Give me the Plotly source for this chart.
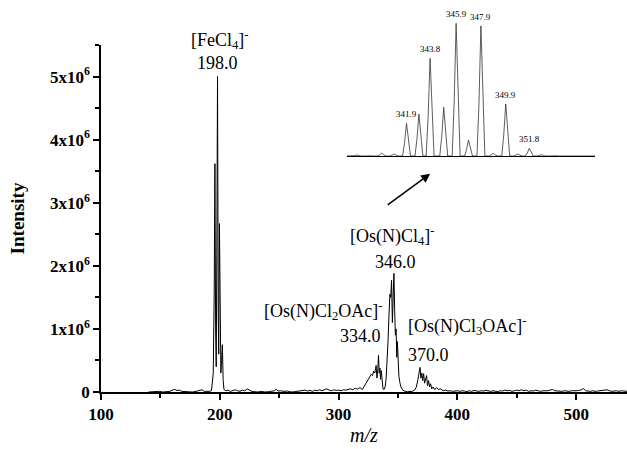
import plotly.graph_objects as go

# ---------------- data ----------------
# main spectrum: m/z and intensity (in units of 10^6 counts)
mz_main = [140, 143, 146, 149, 152, 155, 158, 160, 162, 164, 166, 168, 171, 174, 177, 180, 183, 185, 187, 189, 191, 193,
           194.5, 195.3, 195.9, 196.5, 197.0, 197.5, 198.1, 198.7, 199.1, 199.7, 200.3, 200.9, 201.5, 202.2, 202.8, 203.5,
           205, 207, 209, 211, 213, 215, 217, 219, 221, 223, 225, 227, 229, 232, 235, 238, 241, 244, 246, 247.5, 249, 251,
           254, 257, 260, 263, 266, 268, 270, 272, 274, 276, 278, 280, 282, 284, 286, 288, 290, 292, 294, 296, 298, 300,
           302, 304, 306, 308, 310, 312, 314, 316, 318, 320, 321.5, 323, 324.5, 326, 327.5, 328.5, 329.5, 330.5, 331.6,
           332.3, 333.0, 333.6, 334.2, 334.8, 335.3, 335.9, 336.6, 337.4, 338.3, 339.2, 340.0, 340.8, 341.6, 342.4, 343.2,
           343.9, 344.6, 345.3, 346.0, 346.6, 347.2, 347.8, 348.4, 349.0, 349.5, 350.1, 350.8, 351.6, 352.5, 354, 356, 358,
           360, 362, 364, 365.5, 366.8, 367.8, 368.6, 369.3, 370.1, 370.8, 371.6, 372.4, 373.3, 374.1, 374.9, 375.8, 376.6,
           377.5, 378.4, 379.5, 381, 382.5, 384, 386, 388, 390, 392, 394, 396, 398, 400, 402, 404, 406, 408, 410, 412, 414,
           416, 418, 420, 422, 424, 426, 428, 430, 432, 434, 436, 438, 440, 442, 444, 446, 448, 450, 452, 454, 456, 458,
           460, 462, 464, 466, 468, 470, 472, 474, 476, 478, 480, 482, 484, 486, 488, 490, 492, 494, 496, 498, 500, 502,
           504, 506, 508, 510, 512, 514, 516, 518, 520, 522, 524, 526, 528, 530, 532, 534, 536, 538, 540, 543]
intensity_M = [0.0, 0.005, 0.0, 0.01, 0.0, 0.005, 0.01, 0.03, 0.04, 0.025, 0.03, 0.01, 0.005, 0.01, 0.0, 0.01, 0.02, 0.035,
               0.01, 0.005, 0.01, 0.02,
               0.3, 1.6, 3.62, 1.0, 0.4, 2.2, 5.0, 1.2, 0.6, 2.67, 0.8, 0.3, 0.5, 0.75, 0.2, 0.04,
               0.02, 0.03, 0.01, 0.02, 0.035, 0.02, 0.01, 0.03, 0.02, 0.05, 0.025, 0.01, 0.005, 0.0, 0.01, 0.0, 0.005, 0.01,
               0.02, 0.045, 0.015, 0.02,
               0.01, 0.015, 0.0, 0.005, 0.01, 0.025, 0.02, 0.03, 0.015, 0.025, 0.01, 0.03, 0.02, 0.035, 0.02, 0.04, 0.05,
               0.03, 0.02, 0.035, 0.025, 0.03,
               0.02, 0.035, 0.03, 0.04, 0.05, 0.035, 0.06, 0.045, 0.07, 0.04, 0.09, 0.12, 0.17, 0.22, 0.28, 0.26, 0.33, 0.3,
               0.42,
               0.22, 0.35, 0.58, 0.3, 0.38, 0.2, 0.34, 0.12, 0.05, 0.04, 0.08, 0.2, 0.45, 0.8, 1.2, 1.55,
               1.5, 1.77, 1.1, 1.5, 1.88, 1.3, 0.9, 1.0, 0.55, 0.8, 0.35, 0.25, 0.15, 0.08, 0.03, 0.01, 0.005,
               0.005, 0.01, 0.03, 0.08, 0.2, 0.3, 0.39, 0.22, 0.3, 0.18, 0.29, 0.14, 0.24, 0.26, 0.1, 0.18, 0.08,
               0.13, 0.05, 0.08, 0.04, 0.07, 0.04, 0.05, 0.02, 0.03, 0.015, 0.02, 0.01, 0.015, 0.02, 0.01, 0.02, 0.015,
               0.005, 0.02, 0.01, 0.025,
               0.015, 0.01, 0.02, 0.015, 0.025, 0.02, 0.01, 0.02, 0.01, 0.005, 0.02, 0.015, 0.03, 0.02, 0.025, 0.01, 0.02,
               0.03, 0.02, 0.035, 0.02, 0.03,
               0.01, 0.02, 0.015, 0.03, 0.02, 0.01, 0.02, 0.015, 0.02, 0.03, 0.04, 0.02, 0.015, 0.02, 0.01, 0.02, 0.015,
               0.01, 0.02, 0.015, 0.02, 0.025,
               0.03, 0.055, 0.02, 0.015, 0.01, 0.02, 0.01, 0.015, 0.02, 0.025, 0.03, 0.035, 0.02, 0.01, 0.015, 0.02, 0.01,
               0.02, 0.015, 0.01]

# inset: isotope pattern of [Os(N)Cl4]-  (peak centre m/z, relative height %)
inset_centres = [337.9, 338.9, 339.9, 340.9, 341.9, 342.9, 343.8, 344.9, 345.9, 346.9, 347.9, 348.9, 349.9, 350.9,
                 351.8, 352.8, 353.8, 354.8]
inset_heights = [0.8, 0.4, 2.2, 1.5, 24.6, 31.6, 73.6, 36.7, 100, 12.0, 98.0, 2.0, 39.2, 1.5, 5.8, 1.0, 0.4, 0.3]
inset_labelled = ["341.9", "343.8", "345.9", "347.9", "349.9", "351.8"]

y_tickvals_M = [0, 1, 2, 3, 4, 5]
y_ticktext = ["0", "1x10<sup>6</sup>", "2x10<sup>6</sup>", "3x10<sup>6</sup>", "4x10<sup>6</sup>", "5x10<sup>6</sup>"]
x_tickvals = [100, 200, 300, 400, 500]

# ---------------- build inset profile ----------------
inset_x = [337.1]
inset_y = [0]
for c, h in zip(inset_centres, inset_heights):
    inset_x += [c - 0.32, c - 0.16, c, c + 0.16, c + 0.32]
    inset_y += [0, 0.4 * h, h, 0.4 * h, 0]
inset_x.append(357.1)
inset_y.append(0)

SERIF = "Liberation Serif"

fig = go.Figure()
fig.add_trace(go.Scatter(x=mz_main, y=[v * 1e6 for v in intensity_M], mode="lines",
                         line=dict(color="black", width=1), xaxis="x", yaxis="y", showlegend=False))
fig.add_trace(go.Scatter(x=inset_x, y=inset_y, mode="lines",
                         line=dict(color="#333333", width=0.8), xaxis="x2", yaxis="y2", showlegend=False))

H = 449
T, B, L, R = 5, 57, 101, 0
plot_h = H - T - B
main_top = (392 - 45) / plot_h

annotations = []
# inset peak labels
for c, h in zip(inset_centres, inset_heights):
    lab = f"{c:.1f}"
    if lab in inset_labelled:
        annotations.append(dict(x=c, y=h, xref="x2", yref="y2", text=lab, showarrow=False,
                                yanchor="bottom", yshift=2, font=dict(family=SERIF, size=9, color="black")))

def pap(py):
    return (392 - py) / plot_h

labels = [
    ("[FeCl<sub>4</sub>]<sup>-</sup>", 200.5, pap(40)),
    ("198.0", 197.8, pap(63)),
    ("[Os(N)Cl<sub>4</sub>]<sup>-</sup>", 345.1, pap(235)),
    ("346.0", 347.6, pap(262)),
    ("[Os(N)Cl<sub>2</sub>OAc]<sup>-</sup>", 287.0, pap(310)),
    ("334.0", 318.2, pap(336)),
    ("[Os(N)Cl<sub>3</sub>OAc]<sup>-</sup>", 408.1, pap(325)),
    ("370.0", 375.3, pap(355)),
]
for txt, x, y in labels:
    annotations.append(dict(x=x, y=y, xref="x", yref="paper", text=txt, showarrow=False,
                            xanchor="center", yanchor="middle", font=dict(family=SERIF, size=18, color="black")))

# arrow pointing to inset
annotations.append(dict(x=377.1, y=3.46e6, xref="x", yref="y", ax=340.1, ay=2.95e6, axref="x", ayref="y",
                        text="", showarrow=True, arrowhead=2, arrowsize=1.2, arrowwidth=1.5, arrowcolor="black"))

inset_base = pap(156)
inset_top = inset_base + (156 - 23.3) * 1.01 / plot_h

fig.update_layout(
    width=627, height=449,
    margin=dict(l=L, r=R, t=T, b=B),
    plot_bgcolor="white", paper_bgcolor="white",
    xaxis=dict(range=[100, 542.8], domain=[0, 1], anchor="y",
               showline=True, linecolor="black", linewidth=1.5, mirror=False,
               ticks="outside", ticklen=6, tickwidth=1.5, tickcolor="black",
               tickvals=x_tickvals, showgrid=False, zeroline=False,
               minor=dict(dtick=50, tick0=100, ticks="outside", ticklen=4, tickwidth=1.5, tickcolor="black"),
               tickfont=dict(family=SERIF, size=17, color="black", weight="bold"),
               title=dict(text="<i>m/z</i>", font=dict(family=SERIF, size=20, color="black"), standoff=3)),
    yaxis=dict(range=[0, 5.5e6], domain=[0, main_top], anchor="x",
               showline=True, linecolor="black", linewidth=1.5,
               ticks="outside", ticklen=6, tickwidth=1.5, tickcolor="black",
               tickvals=[v * 1e6 for v in y_tickvals_M], ticktext=y_ticktext,
               showgrid=False, zeroline=False,
               minor=dict(dtick=0.5e6, tick0=0, ticks="outside", ticklen=4, tickwidth=1.5, tickcolor="black"),
               tickfont=dict(family=SERIF, size=17, color="black", weight="bold"),
               title=dict(text="Intensity", font=dict(family=SERIF, size=19, color="black", weight="bold"),
                          standoff=20)),
    xaxis2=dict(range=[337.1, 357.1], domain=[(347 - L) / 526, (595 - L) / 526], anchor="y2",
                showline=True, linecolor="black", linewidth=1, ticks="", showticklabels=False,
                showgrid=False, zeroline=False),
    yaxis2=dict(range=[0, 101], domain=[inset_base, inset_top], anchor="x2",
                showline=False, ticks="", showticklabels=False, showgrid=False, zeroline=False),
    annotations=annotations,
)

fig.write_html("out.html")
